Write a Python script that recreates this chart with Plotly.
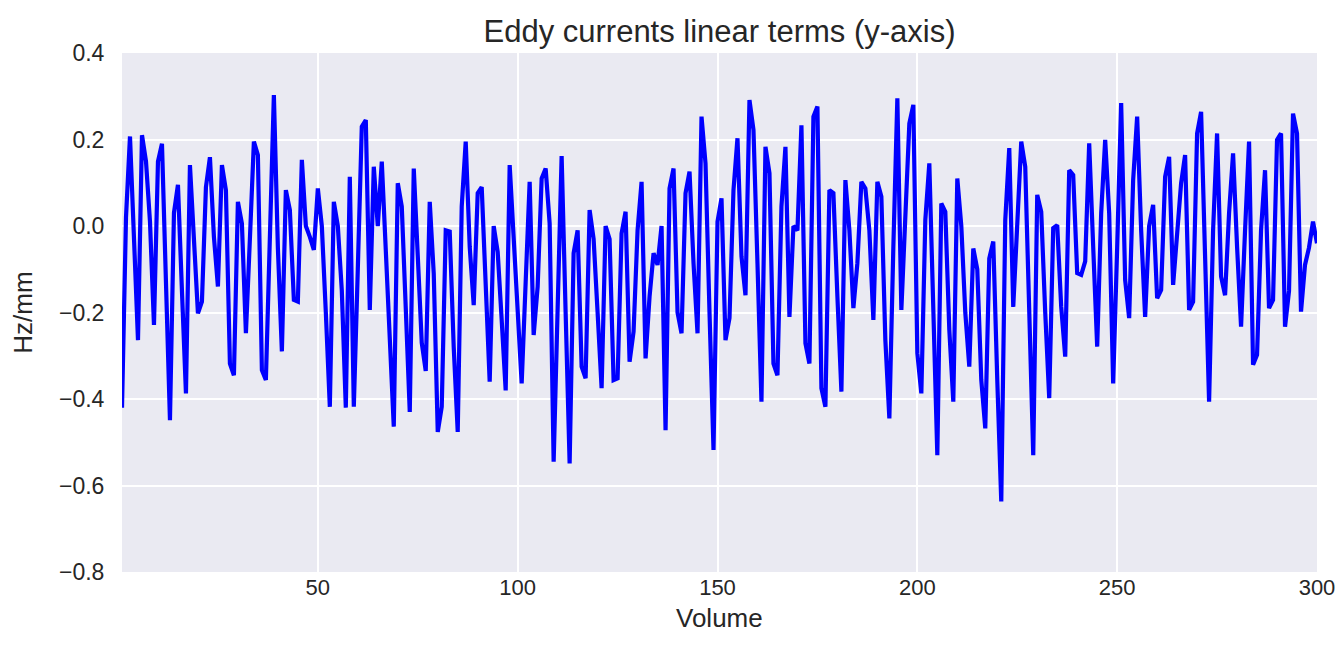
import plotly.graph_objects as go

volumes = list(range(1, 301))
hz_per_mm = [
    -0.42, 0.02, 0.207, -0.05, -0.264, 0.21, 0.15, 0.01, -0.229, 0.149,
    0.19, -0.13, -0.449, 0.03, 0.095, -0.15, -0.387, 0.141, -0.03, -0.202,
    -0.175, 0.09, 0.159, -0.025, -0.14, 0.141, 0.083, -0.318, -0.345, 0.056,
    0.006, -0.248, -0.03, 0.195, 0.164, -0.333, -0.356, 0.0, 0.303, -0.05,
    -0.29, 0.083, 0.037, -0.171, -0.175, 0.153, 0.0, -0.025, -0.055, 0.087,
    0.0, -0.2, -0.418, 0.056, 0.0, -0.15, -0.42, 0.114, -0.418, -0.1,
    0.23, 0.245, -0.194, 0.137, 0.0, 0.149, -0.05, -0.26, -0.464, 0.099,
    0.045, -0.19, -0.43, 0.133, -0.05, -0.27, -0.335, 0.056, -0.11, -0.476,
    -0.418, -0.01, -0.013, -0.28, -0.476, 0.045, 0.195, -0.048, -0.183, 0.076,
    0.09, -0.14, -0.36, 0.0, -0.06, -0.217, -0.38, 0.141, -0.04, -0.2,
    -0.364, -0.13, 0.102, -0.252, -0.14, 0.11, 0.133, 0.006, -0.545, -0.19,
    0.162, -0.2, -0.549, -0.063, -0.01, -0.325, -0.352, 0.037, -0.03, -0.2,
    -0.375, 0.0, -0.03, -0.356, -0.352, -0.017, 0.033, -0.314, -0.244, -0.01,
    0.102, -0.306, -0.163, -0.063, -0.09, 0.0, -0.472, 0.087, 0.133, -0.2,
    -0.248, 0.076, 0.126, -0.086, -0.248, 0.253, 0.145, -0.2, -0.518, 0.01,
    0.064, -0.264, -0.213, 0.083, 0.203, -0.07, -0.16, 0.291, 0.222, -0.086,
    -0.406, 0.183, 0.122, -0.318, -0.345, 0.045, 0.183, -0.21, 0.0, -0.01,
    0.233, -0.271, -0.318, 0.253, 0.276, -0.375, -0.418, 0.083, 0.076, -0.163,
    -0.383, 0.106, -0.01, -0.19, -0.086, 0.102, 0.087, -0.01, -0.217, 0.102,
    0.068, -0.264, -0.445, -0.048, 0.295, -0.194, 0.03, 0.237, 0.28, -0.294,
    -0.387, 0.014, 0.145, -0.2, -0.53, 0.052, 0.033, -0.24, -0.406, 0.11,
    0.0, -0.2, -0.325, -0.052, -0.1, -0.356, -0.468, -0.075, -0.036, -0.356,
    -0.637, 0.014, 0.18, -0.187, 0.0, 0.195, 0.137, -0.2, -0.53, 0.072,
    0.033, -0.2, -0.398, -0.005, 0.002, -0.187, -0.302, 0.129, 0.118, -0.109,
    -0.113, -0.082, 0.191, -0.048, -0.279, 0.03, 0.199, 0.03, -0.364, -0.05,
    0.284, -0.125, -0.213, 0.106, 0.253, -0.01, -0.21, 0.0, 0.049, -0.167,
    -0.148, 0.114, 0.16, -0.136, -0.01, 0.099, 0.164, -0.194, -0.175, 0.214,
    0.264, -0.048, -0.406, -0.01, 0.214, -0.117, -0.16, 0.03, 0.168, -0.048,
    -0.233, -0.01, 0.195, -0.321, -0.298, -0.01, 0.129, -0.19, -0.171, 0.199,
    0.214, -0.233, -0.15, 0.26, 0.214, -0.198, -0.09, -0.05, 0.01, -0.04,
]

x_ticks = [50, 100, 150, 200, 250, 300]
y_ticks = [-0.8, -0.6, -0.4, -0.2, 0.0, 0.2, 0.4]

text_color = "#262626"
font_family = "Liberation Sans, Arial, sans-serif"

# the page body adds an 8px margin; margins below compensate for it
W, H = 1344, 654
fig = go.Figure()
fig.add_trace(go.Scatter(
    x=volumes, y=hz_per_mm, mode="lines",
    line=dict(color="#0000FF", width=4.2),
    showlegend=False,
))

fig.update_layout(
    width=W, height=H,
    margin=dict(l=114, r=35, t=45, b=90),
    paper_bgcolor="white",
    plot_bgcolor="#EAEAF2",
    font=dict(family=font_family, color=text_color, size=22),
    title=dict(
        text="Eddy currents linear terms (y-axis)",
        x=(719.5 - 8) / W, xanchor="center",
        y=1 - (31 - 8) / H, yanchor="middle",
        font=dict(size=31, color=text_color),
    ),
    annotations=[dict(
        text="Volume", xref="paper", yref="paper", x=0.5, y=0,
        xanchor="center", yanchor="middle", yshift=-46, showarrow=False,
        font=dict(size=26, color=text_color),
    )],
)

fig.update_xaxes(
    range=[1, 300],
    tickvals=x_ticks,
    showgrid=True, gridcolor="white", gridwidth=2,
    zeroline=False, showline=False,
    ticks="", ticklen=0,
    tickfont=dict(size=22),
)
fig.update_yaxes(
    range=[-0.8, 0.4],
    tickvals=y_ticks,
    tickformat=".1f",
    showgrid=True, gridcolor="white", gridwidth=2,
    zeroline=False, showline=False,
    ticks="outside", ticklen=12, tickcolor="rgba(0,0,0,0)",
    tickfont=dict(size=23),
    title=dict(text="Hz/mm", font=dict(size=26), standoff=18),
)

fig.write_html("out.html")
